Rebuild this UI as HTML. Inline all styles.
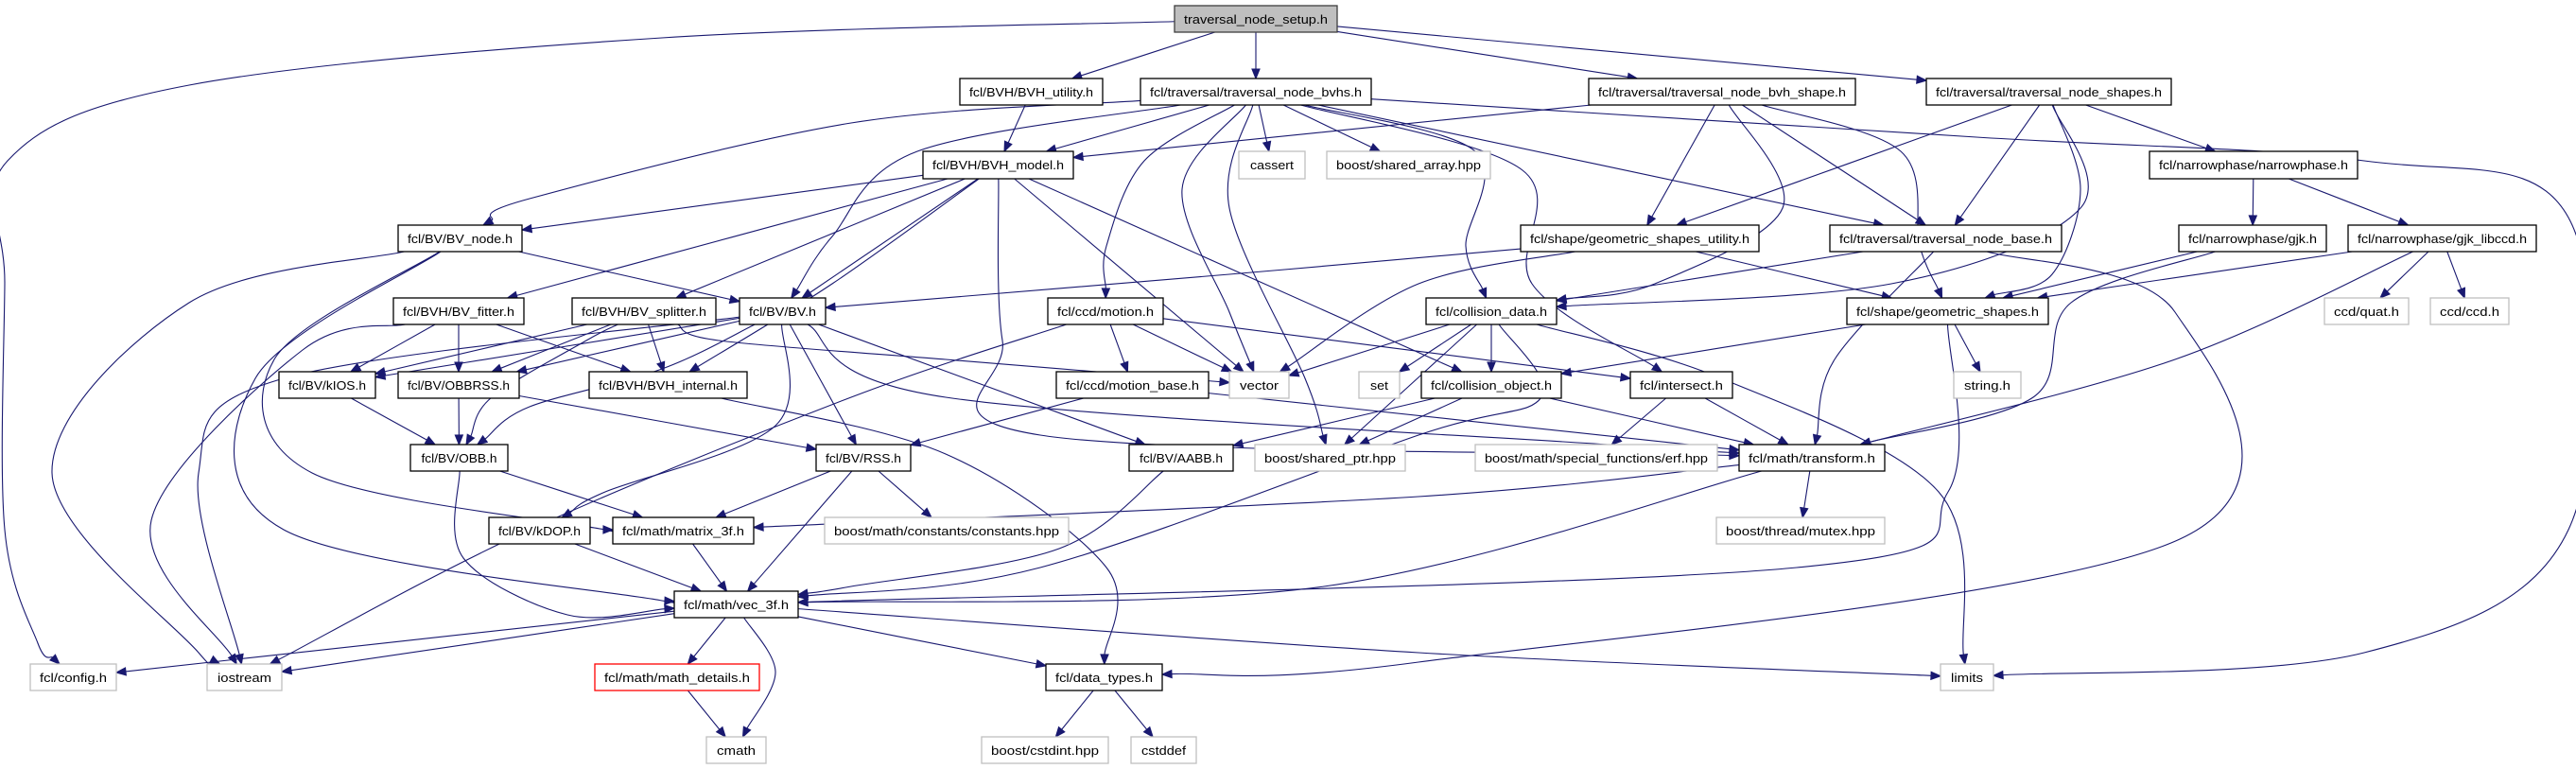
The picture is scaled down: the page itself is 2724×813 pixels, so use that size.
<!DOCTYPE html>
<html><head><meta charset="utf-8">
<style>
html,body{margin:0;padding:0;background:#fff;}
svg{display:block;}
text{font-family:"Liberation Sans",sans-serif;font-size:13px;fill:#000;}
</style></head>
<body>
<svg id="s" width="2724" height="813" viewBox="0 0 2724 813" xmlns="http://www.w3.org/2000/svg">
<rect width="2724" height="813" fill="#fff"/>
<g id="edges" fill="none" stroke="#191970" stroke-width="1.1"></g>
<g id="nodes" stroke-width="1.3">
<rect x="1242" y="6" width="172" height="28" fill="#bfbfbf" stroke="#404040"/><text x="1328" y="25" text-anchor="middle" textLength="152" lengthAdjust="spacingAndGlyphs">traversal_node_setup.h</text>
<rect x="1015" y="83" width="151" height="28" fill="#fff" stroke="#000"/><text x="1090.5" y="102" text-anchor="middle" textLength="131" lengthAdjust="spacingAndGlyphs">fcl/BVH/BVH_utility.h</text>
<rect x="1206" y="83" width="244" height="28" fill="#fff" stroke="#000"/><text x="1328" y="102" text-anchor="middle" textLength="224" lengthAdjust="spacingAndGlyphs">fcl/traversal/traversal_node_bvhs.h</text>
<rect x="1680" y="83" width="282" height="28" fill="#fff" stroke="#000"/><text x="1821" y="102" text-anchor="middle" textLength="262" lengthAdjust="spacingAndGlyphs">fcl/traversal/traversal_node_bvh_shape.h</text>
<rect x="2037" y="83" width="259" height="28" fill="#fff" stroke="#000"/><text x="2166.5" y="102" text-anchor="middle" textLength="239" lengthAdjust="spacingAndGlyphs">fcl/traversal/traversal_node_shapes.h</text>
<rect x="976" y="160" width="159" height="29" fill="#fff" stroke="#000"/><text x="1055.5" y="179" text-anchor="middle" textLength="139" lengthAdjust="spacingAndGlyphs">fcl/BVH/BVH_model.h</text>
<rect x="1310" y="160" width="70" height="29" fill="#fff" stroke="#bfbfbf"/><text x="1345" y="179" text-anchor="middle" textLength="46" lengthAdjust="spacingAndGlyphs">cassert</text>
<rect x="1403" y="160" width="173" height="29" fill="#fff" stroke="#bfbfbf"/><text x="1489.5" y="179" text-anchor="middle" textLength="153" lengthAdjust="spacingAndGlyphs">boost/shared_array.hpp</text>
<rect x="2273" y="160" width="220" height="29" fill="#fff" stroke="#000"/><text x="2383" y="179" text-anchor="middle" textLength="200" lengthAdjust="spacingAndGlyphs">fcl/narrowphase/narrowphase.h</text>
<rect x="421" y="238" width="131" height="28" fill="#fff" stroke="#000"/><text x="486.5" y="257" text-anchor="middle" textLength="111" lengthAdjust="spacingAndGlyphs">fcl/BV/BV_node.h</text>
<rect x="1608" y="238" width="252" height="28" fill="#fff" stroke="#000"/><text x="1734" y="257" text-anchor="middle" textLength="232" lengthAdjust="spacingAndGlyphs">fcl/shape/geometric_shapes_utility.h</text>
<rect x="1935" y="238" width="245" height="28" fill="#fff" stroke="#000"/><text x="2057.5" y="257" text-anchor="middle" textLength="225" lengthAdjust="spacingAndGlyphs">fcl/traversal/traversal_node_base.h</text>
<rect x="2304" y="238" width="156" height="28" fill="#fff" stroke="#000"/><text x="2382" y="257" text-anchor="middle" textLength="136" lengthAdjust="spacingAndGlyphs">fcl/narrowphase/gjk.h</text>
<rect x="2483" y="238" width="199" height="28" fill="#fff" stroke="#000"/><text x="2582.5" y="257" text-anchor="middle" textLength="179" lengthAdjust="spacingAndGlyphs">fcl/narrowphase/gjk_libccd.h</text>
<rect x="416" y="315" width="138" height="28" fill="#fff" stroke="#000"/><text x="485" y="334" text-anchor="middle" textLength="118" lengthAdjust="spacingAndGlyphs">fcl/BVH/BV_fitter.h</text>
<rect x="605" y="315" width="152" height="28" fill="#fff" stroke="#000"/><text x="681" y="334" text-anchor="middle" textLength="132" lengthAdjust="spacingAndGlyphs">fcl/BVH/BV_splitter.h</text>
<rect x="782" y="315" width="91" height="28" fill="#fff" stroke="#000"/><text x="827.5" y="334" text-anchor="middle" textLength="71" lengthAdjust="spacingAndGlyphs">fcl/BV/BV.h</text>
<rect x="1108" y="315" width="122" height="28" fill="#fff" stroke="#000"/><text x="1169" y="334" text-anchor="middle" textLength="102" lengthAdjust="spacingAndGlyphs">fcl/ccd/motion.h</text>
<rect x="1508" y="315" width="138" height="28" fill="#fff" stroke="#000"/><text x="1577" y="334" text-anchor="middle" textLength="118" lengthAdjust="spacingAndGlyphs">fcl/collision_data.h</text>
<rect x="1953" y="315" width="213" height="28" fill="#fff" stroke="#000"/><text x="2059.5" y="334" text-anchor="middle" textLength="193" lengthAdjust="spacingAndGlyphs">fcl/shape/geometric_shapes.h</text>
<rect x="2458" y="315" width="89" height="28" fill="#fff" stroke="#bfbfbf"/><text x="2502.5" y="334" text-anchor="middle" textLength="69" lengthAdjust="spacingAndGlyphs">ccd/quat.h</text>
<rect x="2570" y="315" width="83" height="28" fill="#fff" stroke="#bfbfbf"/><text x="2611.5" y="334" text-anchor="middle" textLength="63" lengthAdjust="spacingAndGlyphs">ccd/ccd.h</text>
<rect x="295" y="393" width="102" height="28" fill="#fff" stroke="#000"/><text x="346" y="412" text-anchor="middle" textLength="82" lengthAdjust="spacingAndGlyphs">fcl/BV/kIOS.h</text>
<rect x="421" y="393" width="128" height="28" fill="#fff" stroke="#000"/><text x="485" y="412" text-anchor="middle" textLength="108" lengthAdjust="spacingAndGlyphs">fcl/BV/OBBRSS.h</text>
<rect x="623" y="393" width="167" height="28" fill="#fff" stroke="#000"/><text x="706.5" y="412" text-anchor="middle" textLength="147" lengthAdjust="spacingAndGlyphs">fcl/BVH/BVH_internal.h</text>
<rect x="1117" y="393" width="161" height="28" fill="#fff" stroke="#000"/><text x="1197.5" y="412" text-anchor="middle" textLength="141" lengthAdjust="spacingAndGlyphs">fcl/ccd/motion_base.h</text>
<rect x="1300" y="393" width="63" height="28" fill="#fff" stroke="#bfbfbf"/><text x="1331.5" y="412" text-anchor="middle" textLength="41" lengthAdjust="spacingAndGlyphs">vector</text>
<rect x="1437" y="393" width="43" height="28" fill="#fff" stroke="#bfbfbf"/><text x="1458.5" y="412" text-anchor="middle" textLength="19" lengthAdjust="spacingAndGlyphs">set</text>
<rect x="1503" y="393" width="148" height="28" fill="#fff" stroke="#000"/><text x="1577" y="412" text-anchor="middle" textLength="128" lengthAdjust="spacingAndGlyphs">fcl/collision_object.h</text>
<rect x="1724" y="393" width="108" height="28" fill="#fff" stroke="#000"/><text x="1778" y="412" text-anchor="middle" textLength="88" lengthAdjust="spacingAndGlyphs">fcl/intersect.h</text>
<rect x="2066" y="393" width="71" height="28" fill="#fff" stroke="#bfbfbf"/><text x="2101.5" y="412" text-anchor="middle" textLength="49" lengthAdjust="spacingAndGlyphs">string.h</text>
<rect x="434" y="470" width="103" height="28" fill="#fff" stroke="#000"/><text x="485.5" y="489" text-anchor="middle" textLength="80" lengthAdjust="spacingAndGlyphs">fcl/BV/OBB.h</text>
<rect x="863" y="470" width="100" height="28" fill="#fff" stroke="#000"/><text x="913" y="489" text-anchor="middle" textLength="80" lengthAdjust="spacingAndGlyphs">fcl/BV/RSS.h</text>
<rect x="1194" y="470" width="110" height="28" fill="#fff" stroke="#000"/><text x="1249" y="489" text-anchor="middle" textLength="88" lengthAdjust="spacingAndGlyphs">fcl/BV/AABB.h</text>
<rect x="1327" y="470" width="159" height="28" fill="#fff" stroke="#bfbfbf"/><text x="1406.5" y="489" text-anchor="middle" textLength="139" lengthAdjust="spacingAndGlyphs">boost/shared_ptr.hpp</text>
<rect x="1560" y="470" width="256" height="28" fill="#fff" stroke="#bfbfbf"/><text x="1688" y="489" text-anchor="middle" textLength="236" lengthAdjust="spacingAndGlyphs">boost/math/special_functions/erf.hpp</text>
<rect x="1839" y="470" width="154" height="28" fill="#fff" stroke="#000"/><text x="1916" y="489" text-anchor="middle" textLength="134" lengthAdjust="spacingAndGlyphs">fcl/math/transform.h</text>
<rect x="517" y="547" width="107" height="28" fill="#fff" stroke="#000"/><text x="570.5" y="566" text-anchor="middle" textLength="87" lengthAdjust="spacingAndGlyphs">fcl/BV/kDOP.h</text>
<rect x="648" y="547" width="149" height="28" fill="#fff" stroke="#000"/><text x="722.5" y="566" text-anchor="middle" textLength="129" lengthAdjust="spacingAndGlyphs">fcl/math/matrix_3f.h</text>
<rect x="872" y="547" width="258" height="28" fill="#fff" stroke="#bfbfbf"/><text x="1001" y="566" text-anchor="middle" textLength="238" lengthAdjust="spacingAndGlyphs">boost/math/constants/constants.hpp</text>
<rect x="1815" y="547" width="178" height="28" fill="#fff" stroke="#bfbfbf"/><text x="1904" y="566" text-anchor="middle" textLength="158" lengthAdjust="spacingAndGlyphs">boost/thread/mutex.hpp</text>
<rect x="713" y="625" width="131" height="28" fill="#fff" stroke="#000"/><text x="778.5" y="644" text-anchor="middle" textLength="111" lengthAdjust="spacingAndGlyphs">fcl/math/vec_3f.h</text>
<rect x="32" y="702" width="91" height="28" fill="#fff" stroke="#bfbfbf"/><text x="77.5" y="721" text-anchor="middle" textLength="71" lengthAdjust="spacingAndGlyphs">fcl/config.h</text>
<rect x="219" y="702" width="79" height="28" fill="#fff" stroke="#bfbfbf"/><text x="258.5" y="721" text-anchor="middle" textLength="57" lengthAdjust="spacingAndGlyphs">iostream</text>
<rect x="629" y="702" width="174" height="28" fill="#fff" stroke="#ff0000"/><text x="716" y="721" text-anchor="middle" textLength="154" lengthAdjust="spacingAndGlyphs">fcl/math/math_details.h</text>
<rect x="1106" y="702" width="123" height="28" fill="#fff" stroke="#000"/><text x="1167.5" y="721" text-anchor="middle" textLength="103" lengthAdjust="spacingAndGlyphs">fcl/data_types.h</text>
<rect x="2052" y="702" width="56" height="28" fill="#fff" stroke="#bfbfbf"/><text x="2080" y="721" text-anchor="middle" textLength="34" lengthAdjust="spacingAndGlyphs">limits</text>
<rect x="747" y="779" width="63" height="28" fill="#fff" stroke="#bfbfbf"/><text x="778.5" y="798" text-anchor="middle" textLength="41" lengthAdjust="spacingAndGlyphs">cmath</text>
<rect x="1038" y="779" width="134" height="28" fill="#fff" stroke="#bfbfbf"/><text x="1105" y="798" text-anchor="middle" textLength="114" lengthAdjust="spacingAndGlyphs">boost/cstdint.hpp</text>
<rect x="1196" y="779" width="69" height="28" fill="#fff" stroke="#bfbfbf"/><text x="1230.5" y="798" text-anchor="middle" textLength="47" lengthAdjust="spacingAndGlyphs">cstddef</text>
</g>
</svg>
<script>
var N={setup:[1242,6,1414,34],utility:[1015,83,1166,111],bvhs:[1206,83,1450,111],bvhshape:[1680,83,1962,111],shapes:[2037,83,2296,111],
model:[976,160,1135,189],cassert:[1310,160,1380,189],sharedarr:[1403,160,1576,189],narrow:[2273,160,2493,189],
bvnode:[421,238,552,266],gsu:[1608,238,1860,266],tnb:[1935,238,2180,266],gjk:[2304,238,2460,266],gjkl:[2483,238,2682,266],
fitter:[416,315,554,343],splitter:[605,315,757,343],bv:[782,315,873,343],motion:[1108,315,1230,343],cdata:[1508,315,1646,343],gs:[1953,315,2166,343],quat:[2458,315,2547,343],ccd:[2570,315,2653,343],
kios:[295,393,397,421],obbrss:[421,393,549,421],internal:[623,393,790,421],mbase:[1117,393,1278,421],vector:[1300,393,1363,421],set:[1437,393,1480,421],cobj:[1503,393,1651,421],inter:[1724,393,1832,421],string:[2066,393,2137,421],
obb:[434,470,537,498],rss:[863,470,963,498],aabb:[1194,470,1304,498],sptr:[1327,470,1486,498],erf:[1560,470,1816,498],transform:[1839,470,1993,498],
kdop:[517,547,624,575],matrix:[648,547,797,575],constants:[872,547,1130,575],mutex:[1815,547,1993,575],
vec:[713,625,844,653],config:[32,702,123,730],iostream:[219,702,298,730],mdet:[629,702,803,730],dtypes:[1106,702,1229,730],limits:[2052,702,2108,730],
cmath:[747,779,810,807],cstdint:[1038,779,1172,807],cstddef:[1196,779,1265,807]};
var E=[
["setup","config",[[700,40],[200,90],[8,170],[5,300],[5,560],[40,680]]],
["setup","utility"],["setup","bvhs"],["setup","bvhshape"],["setup","shapes"],
["utility","model"],
["bvhs","bvnode",[[900,130],[560,210]]],["bvhs","model"],["bvhs","bv",[[970,160],[880,250]]],["bvhs","cassert"],["bvhs","sharedarr"],
["bvhs","motion",[[1210,170],[1170,260]]],["bvhs","vector",[[1250,200],[1300,330]]],["bvhs","sptr",[[1300,220],[1380,400]]],
["bvhs","cdata",[[1560,160],[1550,260]]],["bvhs","inter",[[1610,180],[1620,300]]],["bvhs","tnb"],
["bvhs","limits",[[2090,145],[2500,170],[2716,230],[2716,560],[2500,690]]],
["bvhshape","model"],["bvhshape","gsu"],["bvhshape","cdata",[[1885,220],[1750,300]]],["bvhshape","tnb"],["bvhshape","gs",[[2010,160],[2030,260]]],
["shapes","narrow"],["shapes","gsu"],["shapes","tnb"],["shapes","gs",[[2200,200],[2170,290]]],["shapes","cdata",[[2200,220],[2000,300]]],
["narrow","gjk"],["narrow","gjkl"],
["gjk","gs"],["gjk","transform",[[2190,320],[2150,420]]],
["gjkl","gs"],["gjkl","quat"],["gjkl","ccd"],["gjkl","transform",[[2300,380]]],
["model","bvnode"],["model","fitter"],["model","splitter"],["model","internal",[[880,300]]],["model","vector"],["model","cobj"],["model","transform",[[1060,360],[1100,460]]],["model","bv"],
["bvnode","bv"],["bvnode","iostream",[[200,320],[55,500],[210,690]]],["bvnode","vec",[[270,400],[300,560],[700,635]]],["bvnode","matrix",[[290,380],[330,500],[640,560]]],
["fitter","kios"],["fitter","obbrss"],["fitter","internal"],["fitter","iostream",[[320,370],[160,550]]],
["splitter","kios"],["splitter","obbrss"],["splitter","internal"],["splitter","vector",[[760,360],[1000,380]]],["splitter","obb",[[620,360],[520,420]]],
["bv","kios"],["bv","obbrss"],["bv","obb",[[700,390],[560,430]]],["bv","rss"],["bv","aabb"],["bv","kdop",[[820,450],[640,520]]],["bv","transform",[[1000,420],[1700,470]]],["bv","iostream",[[300,400],[210,500]]],
["kios","obb"],["obbrss","obb"],["obbrss","rss"],
["obb","matrix"],["obb","vec",[[490,590],[600,650]]],
["rss","matrix"],["rss","vec"],["rss","constants"],
["kdop","vec"],["aabb","vec",[[1120,580],[900,620]]],["matrix","vec"],
["motion","mbase"],["motion","vector"],["motion","inter"],["motion","iostream",[[900,420],[560,560]]],
["mbase","rss"],["mbase","transform"],
["internal","dtypes",[[1000,480],[1170,600]]],
["cdata","set"],["cdata","cobj"],["cdata","vector"],["cdata","sptr"],["cdata","limits",[[1820,400],[2050,520]]],["cdata","vec",[[1630,420],[1500,460],[1100,600]]],
["cobj","aabb"],["cobj","sptr"],["cobj","transform"],
["inter","erf"],["inter","transform"],
["gsu","bv",[[1300,290]]],["gsu","vector",[[1500,300]]],["gsu","gs"],
["tnb","cdata"],["tnb","transform",[[1940,380]]],["tnb","dtypes",[[2300,330],[2305,570],[1500,700]]],
["gs","cobj"],["gs","string"],["gs","vec",[[2060,520],[1900,600]]],
["transform","mutex"],["transform","matrix",[[1500,525]]],["transform","vec",[[1400,620]]],
["vec","config"],["vec","iostream"],["vec","mdet"],["vec","cmath",[[820,710]]],["vec","dtypes"],["vec","limits",[[1500,690]]],
["dtypes","cstdint"],["dtypes","cstddef"],
["mdet","cmath"]
];
function ctr(r){return [(r[0]+r[2])/2,(r[1]+r[3])/2];}
function clip(r,p){var c=ctr(r),dx=p[0]-c[0],dy=p[1]-c[1];var hw=(r[2]-r[0])/2,hh=(r[3]-r[1])/2;
 var t=Math.min(dx?Math.abs(hw/dx):1e9,dy?Math.abs(hh/dy):1e9);return [c[0]+dx*t,c[1]+dy*t];}
var g=document.getElementById('edges'),ns="http://www.w3.org/2000/svg";
E.forEach(function(e){var a=N[e[0]],b=N[e[1]],w=e[2]||[];
 var p0=clip(a,w.length?w[0]:ctr(b)),pn=clip(b,w.length?w[w.length-1]:ctr(a));
 var pts=[p0].concat(w,[pn]);
 var last=pts[pts.length-2],dx=pn[0]-last[0],dy=pn[1]-last[1],L=Math.hypot(dx,dy)||1;dx/=L;dy/=L;
 var base=[pn[0]-dx*10,pn[1]-dy*10];pts[pts.length-1]=base;
 var d="M"+pts[0][0]+","+pts[0][1];
 for(var i=0;i<pts.length-1;i++){var p_=pts[i-1]||pts[i],p1=pts[i],p2=pts[i+1],p3=pts[i+2]||p2;
  var c1=[p1[0]+(p2[0]-p_[0])/6,p1[1]+(p2[1]-p_[1])/6],c2=[p2[0]-(p3[0]-p1[0])/6,p2[1]-(p3[1]-p1[1])/6];
  d+=" C"+c1+" "+c2+" "+p2;}
 var pa=document.createElementNS(ns,"path");pa.setAttribute("d",d);g.appendChild(pa);
 var tri=document.createElementNS(ns,"polygon");
 tri.setAttribute("points",pn[0]+","+pn[1]+" "+(base[0]-dy*4)+","+(base[1]+dx*4)+" "+(base[0]+dy*4)+","+(base[1]-dx*4));
 tri.setAttribute("fill","#191970");g.appendChild(tri);
});
</script>
</body></html>
